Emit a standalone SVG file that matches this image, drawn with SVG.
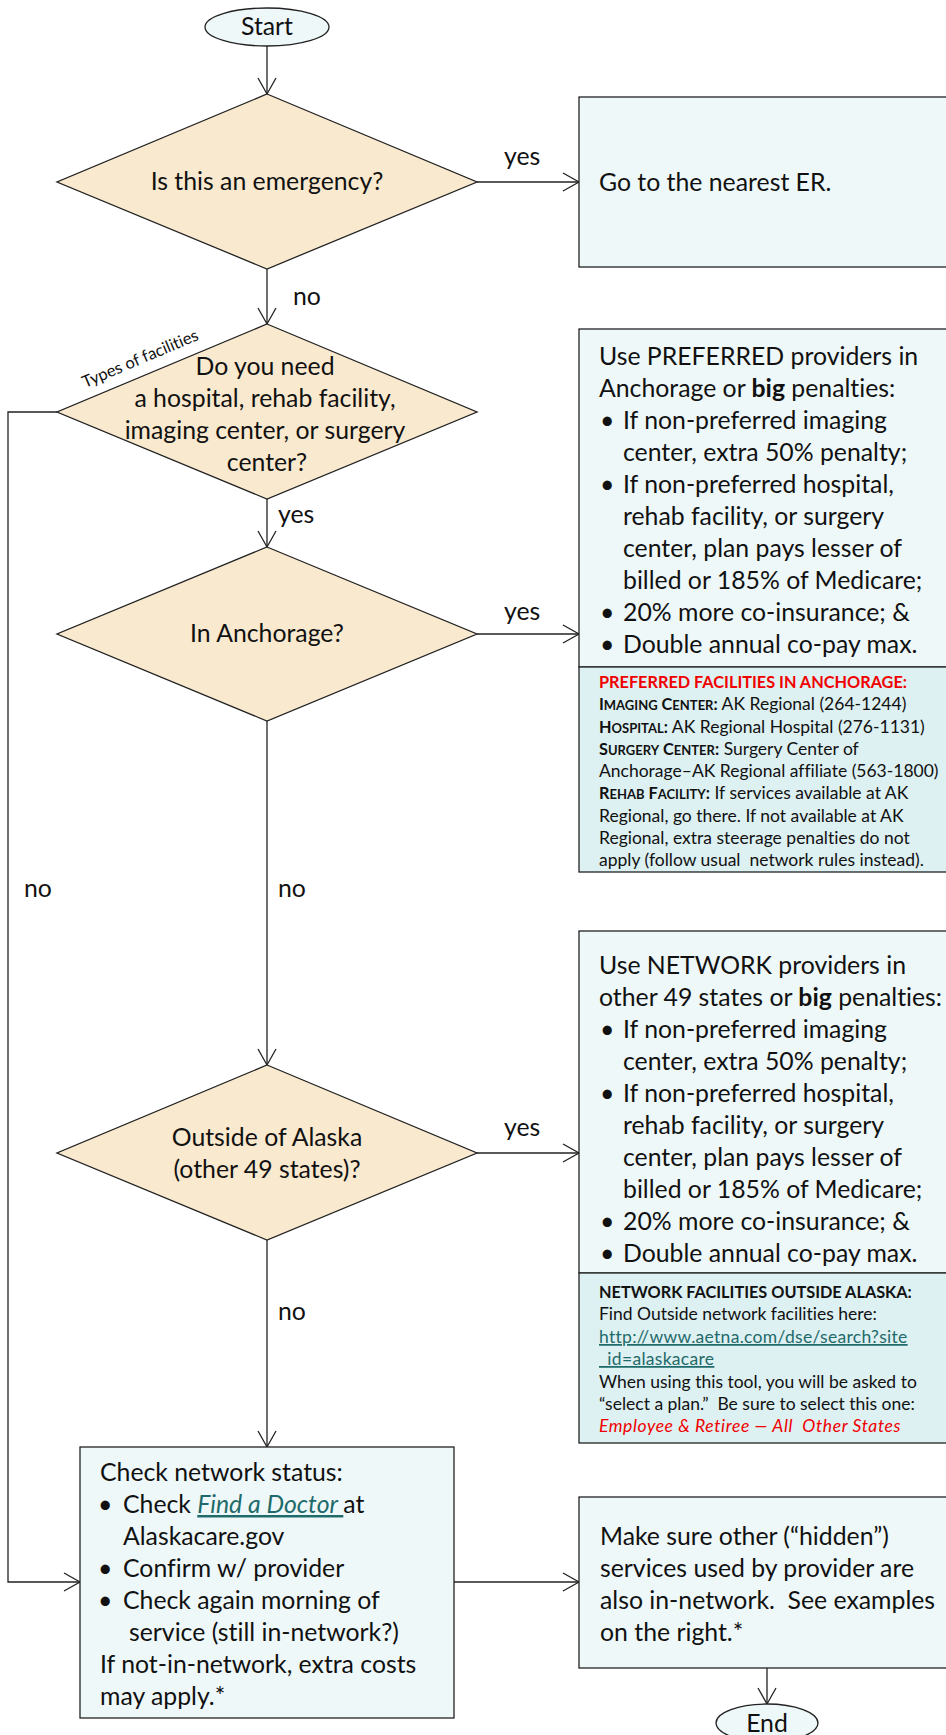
<svg xmlns="http://www.w3.org/2000/svg" width="946" height="1735" viewBox="0 0 946 1735">
<defs>
<marker id="arr" viewBox="0 0 20 20" refX="18" refY="10" markerWidth="20" markerHeight="20" markerUnits="userSpaceOnUse" orient="auto">
<path d="M2,1 L18,10 L2,19" fill="none" stroke="#222" stroke-width="1.3"/>
</marker>
</defs>
<style>
text{font-family:Lato,"Liberation Sans",sans-serif;fill:#111;font-variant-ligatures:none;font-feature-settings:"liga" 0;}
.t{font-size:24.8px;}
.s{font-size:17.5px;}
.hb{font-size:16.3px;font-weight:bold;}
.sc{font-size:13px;}
.b{font-weight:bold;}
.m{text-anchor:middle;}
.dia{fill:#F9E9CF;stroke:#222;stroke-width:1.3;}
.box{fill:#EEF8F9;stroke:#222;stroke-width:1.3;}
.low{fill:#DDF0F2;stroke:#222;stroke-width:1.3;}
.term{fill:#EEF8F9;stroke:#222;stroke-width:1.3;}
.c{fill:none;stroke:#222;stroke-width:1.3;marker-end:url(#arr);}
.red{fill:#F00000;}
.lnk{fill:#1F6A6A;text-decoration:underline;}
</style>

<g id="connectors">
<path class="c" d="M267,46 V94"/>
<path class="c" d="M477,182 H579"/>
<path class="c" d="M267,269 V324"/>
<path class="c" d="M267,499 V547"/>
<path class="c" d="M477,634 H579"/>
<path class="c" d="M267,721 V1065"/>
<path class="c" d="M477,1153 H579"/>
<path class="c" d="M267,1240 V1447"/>
<path class="c" d="M57,412 H8 V1582 H80"/>
<path class="c" d="M454,1582 H579"/>
<path class="c" d="M767,1668 V1704"/>
<text class="t" x="504" y="165">yes</text>
<text class="t" x="293" y="305">no</text>
<text class="t" x="278" y="523">yes</text>
<text class="t" x="504" y="620">yes</text>
<text class="t" x="24" y="897">no</text>
<text class="t" x="278" y="897">no</text>
<text class="t" x="504" y="1136">yes</text>
<text class="t" x="278" y="1320">no</text>
<text style="font-size:16.5px" transform="translate(85,388) rotate(-23)">Types of facilities</text>
</g>

<g id="start">
<ellipse class="term" cx="267" cy="27" rx="62" ry="19"/>
<text class="t m" x="267" y="35">Start</text>
</g>

<g id="emergency">
<polygon class="dia" points="267,94 477,182 267,269 57,182"/>
<text class="t m" x="267" y="190">Is this an emergency?</text>
</g>

<g id="er">
<rect class="box" x="579" y="97" width="380" height="170"/>
<text class="t" x="599" y="191">Go to the nearest ER.</text>
</g>

<g id="facility">
<polygon class="dia" points="267,324 477,412 267,499 57,412"/>
<text class="t m" x="265" y="375">Do you need</text>
<text class="t m" x="265" y="407">a hospital, rehab facility,</text>
<text class="t m" x="265" y="439">imaging center, or surgery</text>
<text class="t m" x="267" y="471">center?</text>
</g>

<g id="anchorage">
<polygon class="dia" points="267,547 477,634 267,721 57,634"/>
<text class="t m" x="267" y="642">In Anchorage?</text>
</g>

<g id="preferred">
<rect class="box" x="579" y="329" width="380" height="338"/>
<rect class="low" x="579" y="667" width="380" height="205"/>
<text class="t" x="599" y="365">Use PREFERRED providers in</text>
<text class="t" x="599" y="397">Anchorage or <tspan class="b">big</tspan> penalties:</text>
<text class="t" x="600" y="429">•</text><text class="t" x="623" y="429">If non-preferred imaging</text>
<text class="t" x="623" y="461">center, extra 50% penalty;</text>
<text class="t" x="600" y="493">•</text><text class="t" x="623" y="493">If non-preferred hospital,</text>
<text class="t" x="623" y="525">rehab facility, or surgery</text>
<text class="t" x="623" y="557">center, plan pays lesser of</text>
<text class="t" x="623" y="589">billed or 185% of Medicare;</text>
<text class="t" x="600" y="621">•</text><text class="t" x="623" y="621">20% more co-insurance; &amp;</text>
<text class="t" x="600" y="653">•</text><text class="t" x="623" y="653">Double annual co-pay max.</text>
<text class="hb red" x="599" y="688">PREFERRED FACILITIES IN ANCHORAGE:</text>
<text class="s" x="599" y="710"><tspan class="hb">I<tspan class="sc">MAGING</tspan> C<tspan class="sc">ENTER</tspan>:</tspan> AK Regional (264-1244)</text>
<text class="s" x="599" y="733"><tspan class="hb">H<tspan class="sc">OSPITAL</tspan>:</tspan> AK Regional Hospital (276-1131)</text>
<text class="s" x="599" y="755"><tspan class="hb">S<tspan class="sc">URGERY</tspan> C<tspan class="sc">ENTER</tspan>:</tspan> Surgery Center of</text>
<text class="s" x="599" y="777">Anchorage–AK Regional affiliate (563-1800)</text>
<text class="s" x="599" y="799"><tspan class="hb">R<tspan class="sc">EHAB</tspan> F<tspan class="sc">ACILITY</tspan>:</tspan> If services available at AK</text>
<text class="s" x="599" y="822">Regional, go there. If not available at AK</text>
<text class="s" x="599" y="844">Regional, extra steerage penalties do not</text>
<text class="s" x="599" y="866" xml:space="preserve">apply (follow usual  network rules instead).</text>
</g>

<g id="outside">
<polygon class="dia" points="267,1065 477,1153 267,1240 57,1153"/>
<text class="t m" x="267" y="1146">Outside of Alaska</text>
<text class="t m" x="267" y="1178">(other 49 states)?</text>
</g>

<g id="network">
<rect class="box" x="579" y="931" width="380" height="342"/>
<rect class="low" x="579" y="1273" width="380" height="170"/>
<text class="t" x="599" y="974">Use NETWORK providers in</text>
<text class="t" x="599" y="1006">other 49 states or <tspan class="b">big</tspan> penalties:</text>
<text class="t" x="600" y="1038">•</text><text class="t" x="623" y="1038">If non-preferred imaging</text>
<text class="t" x="623" y="1070">center, extra 50% penalty;</text>
<text class="t" x="600" y="1102">•</text><text class="t" x="623" y="1102">If non-preferred hospital,</text>
<text class="t" x="623" y="1134">rehab facility, or surgery</text>
<text class="t" x="623" y="1166">center, plan pays lesser of</text>
<text class="t" x="623" y="1198">billed or 185% of Medicare;</text>
<text class="t" x="600" y="1230">•</text><text class="t" x="623" y="1230">20% more co-insurance; &amp;</text>
<text class="t" x="600" y="1262">•</text><text class="t" x="623" y="1262">Double annual co-pay max.</text>
<text class="hb" x="599" y="1298">NETWORK FACILITIES OUTSIDE ALASKA:</text>
<text class="s" x="599" y="1320">Find Outside network facilities here:</text>
<text class="s lnk" x="599" y="1343" style="letter-spacing:0.3px">http://www.aetna.com/dse/search?site</text>
<text class="s lnk" x="599" y="1365" style="letter-spacing:0.3px">_id=alaskacare</text>
<text class="s" x="599" y="1388">When using this tool, you will be asked to</text>
<text class="s" x="599" y="1410" xml:space="preserve">“select a plan.”  Be sure to select this one:</text>
<text class="s red" x="599" y="1432" font-style="italic" style="letter-spacing:0.6px" xml:space="preserve">Employee &amp; Retiree — All  Other States</text>
</g>

<g id="check">
<rect class="box" x="80" y="1447" width="374" height="271"/>
<text class="t" x="100" y="1481">Check network status:</text>
<text class="t" x="98" y="1513">•</text><text class="t" x="123" y="1513">Check <tspan class="lnk" font-style="italic">Find a Doctor </tspan>at</text>
<text class="t" x="123" y="1545">Alaskacare.gov</text>
<text class="t" x="98" y="1577">•</text><text class="t" x="123" y="1577">Confirm w/ provider</text>
<text class="t" x="98" y="1609">•</text><text class="t" x="123" y="1609">Check again morning of</text>
<text class="t" x="129" y="1641">service (still in-network?)</text>
<text class="t" x="100" y="1673">If not-in-network, extra costs</text>
<text class="t" x="100" y="1705">may apply.*</text>
</g>

<g id="hidden">
<rect class="box" x="579" y="1497" width="380" height="171"/>
<text class="t" x="600" y="1545">Make sure other (“hidden”)</text>
<text class="t" x="600" y="1577">services used by provider are</text>
<text class="t" x="600" y="1609" xml:space="preserve">also in-network.  See examples</text>
<text class="t" x="600" y="1641">on the right.*</text>
</g>

<g id="end">
<ellipse class="term" cx="767" cy="1723" rx="51" ry="19"/>
<text class="t m" x="767" y="1732">End</text>
</g>
</svg>
